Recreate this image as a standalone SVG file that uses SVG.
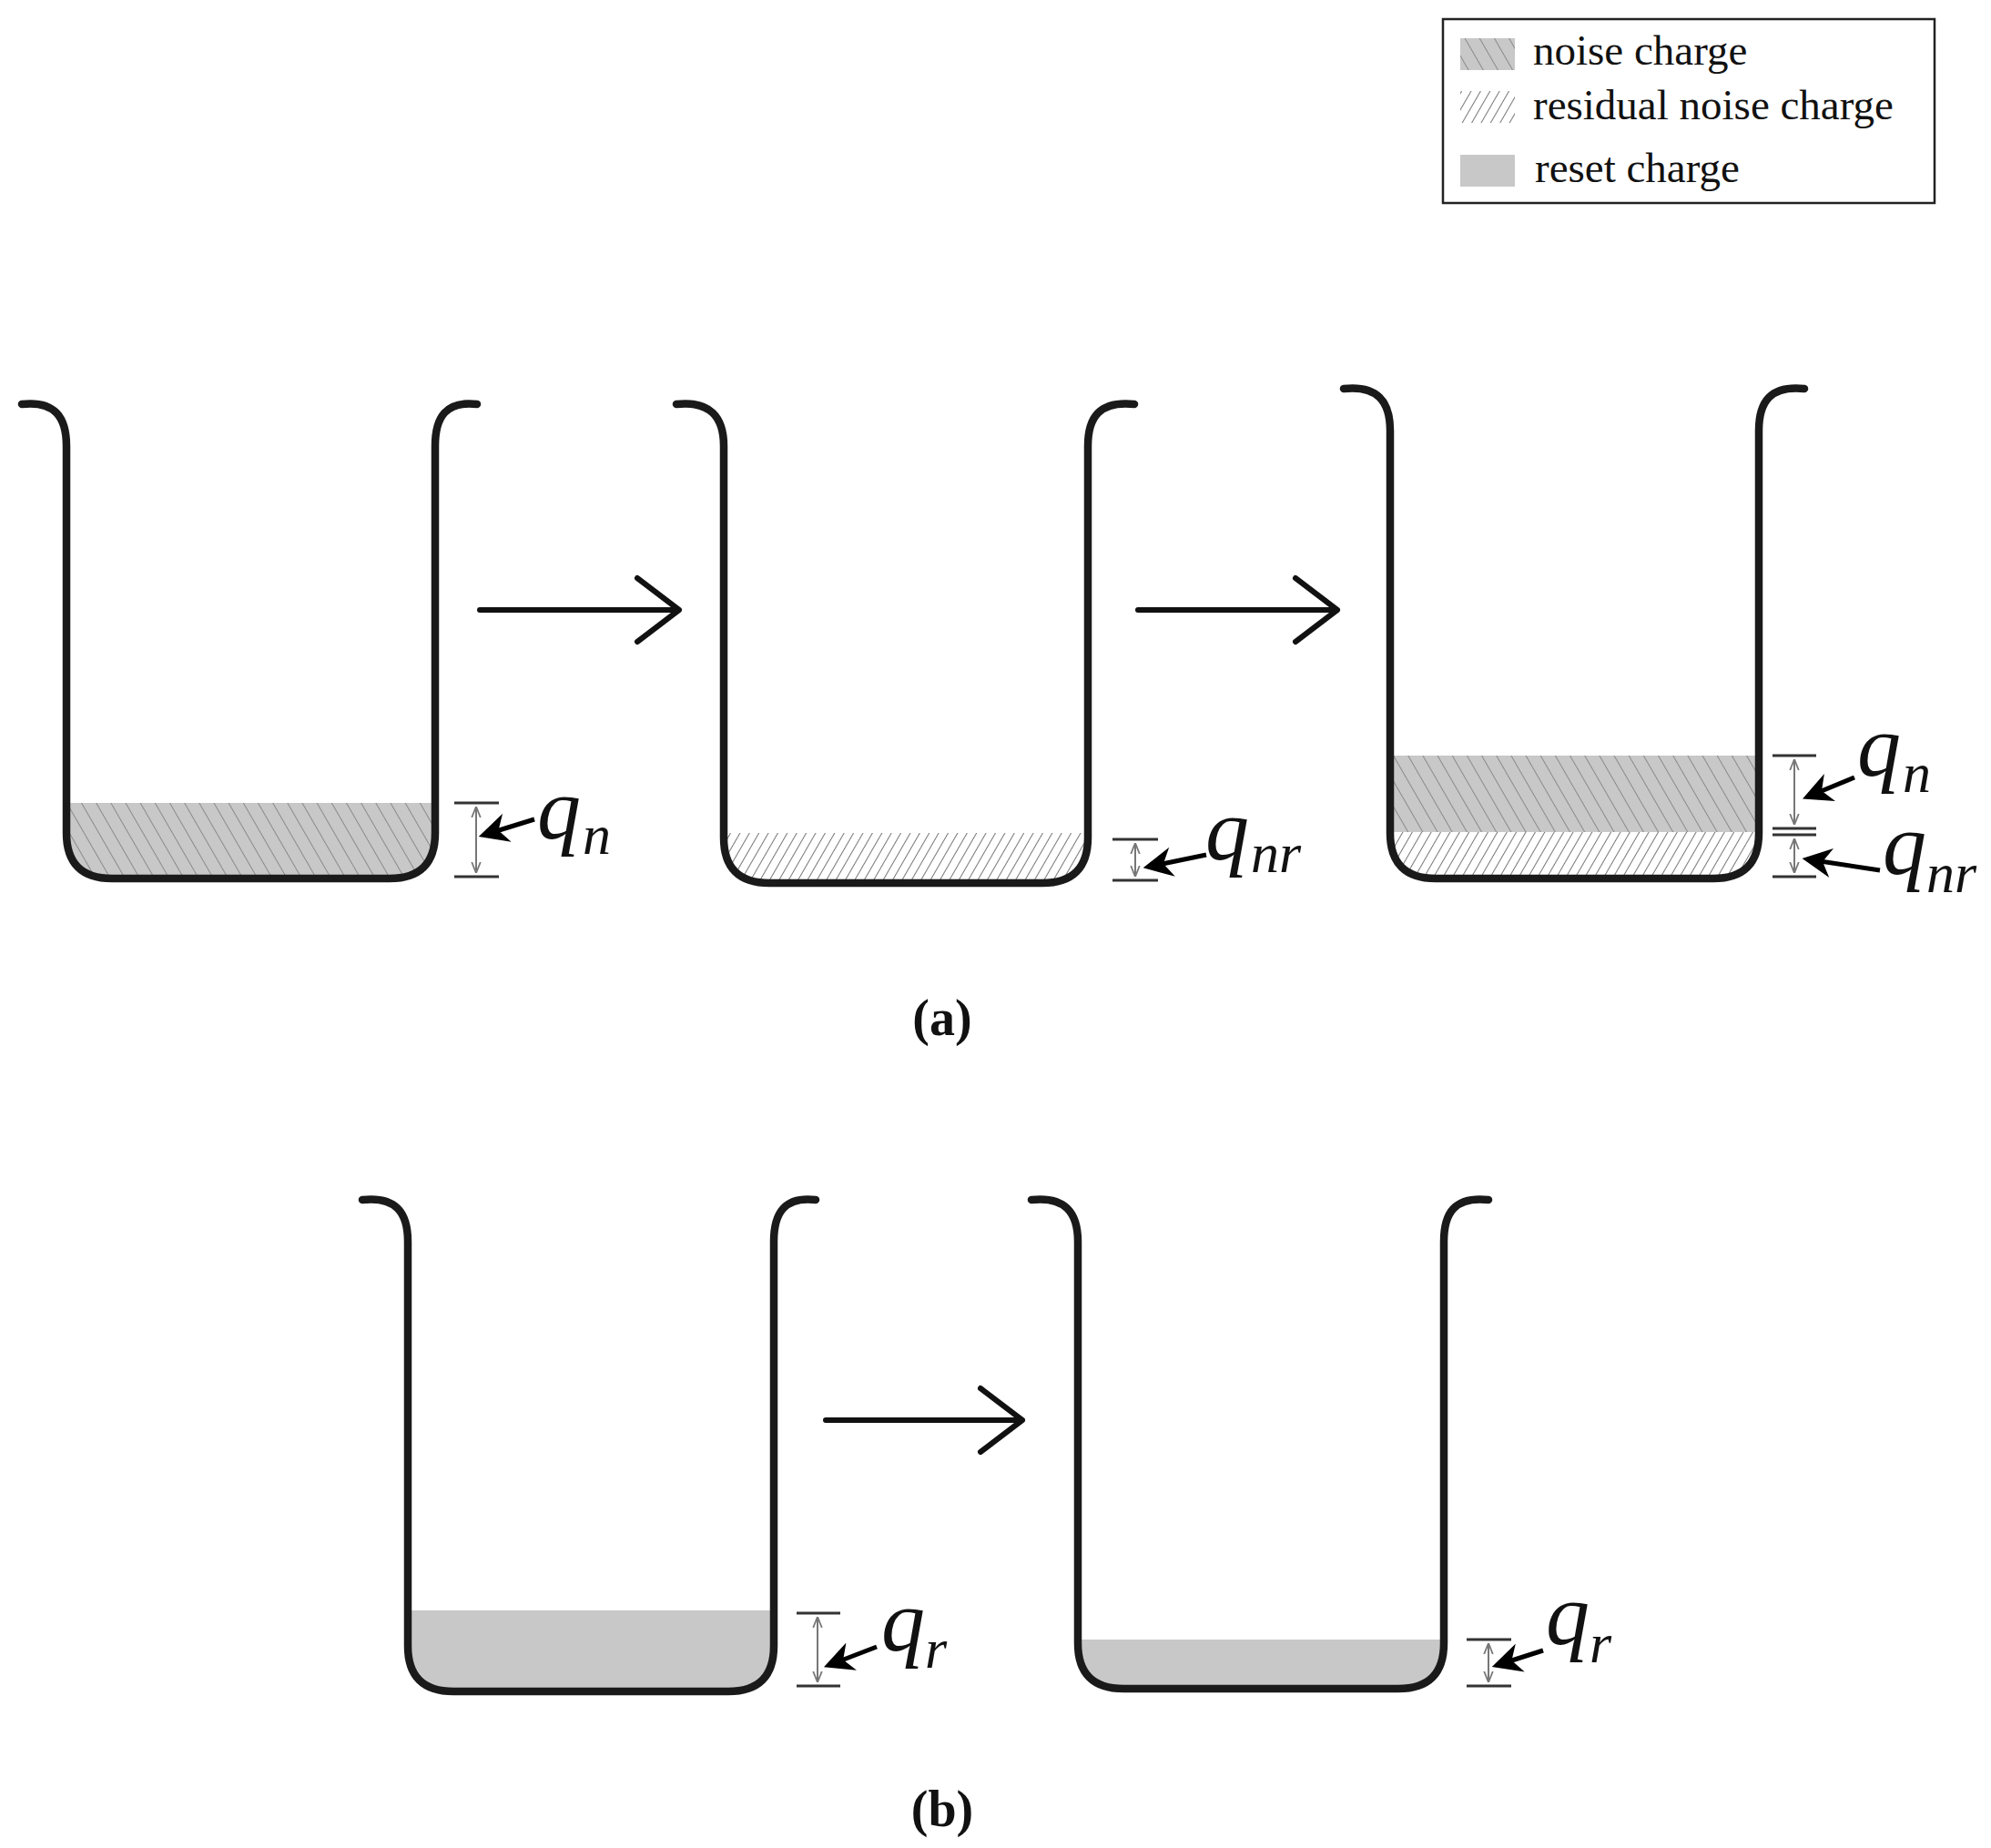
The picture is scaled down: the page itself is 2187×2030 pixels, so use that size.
<svg xmlns="http://www.w3.org/2000/svg" width="2187" height="2030" viewBox="0 0 2187 2030">
<style>
.cup{fill:none;stroke:#1a1a1a;stroke-width:8.5;stroke-linecap:round;stroke-linejoin:round}
.tick{stroke:#333;stroke-width:3}
.dim{stroke:#777;stroke-width:2;marker-start:url(#dh);marker-end:url(#dh)}
.ptr{stroke:#000;stroke-width:5;marker-end:url(#ph)}
.flow{fill:none;stroke:#111;stroke-width:6;stroke-linecap:round;stroke-linejoin:round}
.q{font-family:"Liberation Serif","DejaVu Serif",serif;font-style:italic;font-size:96px;fill:#111}
.s{font-family:"Liberation Serif","DejaVu Serif",serif;font-style:italic;font-size:62px;fill:#111}
.lg{font-family:"Liberation Serif",serif;font-size:47px;fill:#111}
.cap{font-family:"Liberation Serif",serif;font-weight:bold;font-size:56px;fill:#111;text-anchor:middle}
</style>
<defs>
<pattern id="noise" width="14" height="14" patternUnits="userSpaceOnUse" patternTransform="rotate(-30)">
<rect width="14" height="14" fill="#c8c8c8"/><line x1="0" y1="0" x2="0" y2="14" stroke="#8a8a8a" stroke-width="2"/></pattern>
<pattern id="resid" width="9" height="9" patternUnits="userSpaceOnUse" patternTransform="rotate(30)">
<rect width="9" height="9" fill="#fff"/><line x1="0" y1="0" x2="0" y2="9" stroke="#777" stroke-width="2"/></pattern>
<marker id="dh" viewBox="0 0 10 10" refX="10" refY="5" markerWidth="6" markerHeight="6" orient="auto-start-reverse" markerUnits="strokeWidth">
<path d="M0 1 L10 5 L0 9" fill="none" stroke="#777" stroke-width="1.5"/></marker>
<marker id="ph" viewBox="0 0 10 10" refX="8" refY="5" markerWidth="6.5" markerHeight="6.5" orient="auto">
<path d="M0 0 L10 5 L0 10 L3 5 Z" fill="#000"/></marker>
</defs>
<rect width="2187" height="2030" fill="#fff"/>

<g id="legend">
<rect x="1585" y="21" width="540" height="202" fill="#fff" stroke="#222" stroke-width="2.5"/>
<rect x="1604" y="42" width="60" height="35" fill="url(#noise)"/>
<rect x="1604" y="100" width="60" height="35" fill="url(#resid)"/>
<rect x="1604" y="170" width="60" height="35" fill="#c8c8c8"/>
<text class="lg" x="1684" y="71">noise charge</text>
<text class="lg" x="1684" y="131">residual noise charge</text>
<text class="lg" x="1686" y="200">reset charge</text>
</g>

<g id="cup1">
<path d="M73 882 H478 V915 Q478 965 428 965 H123 Q73 965 73 915 Z" fill="url(#noise)"/>
<path class="cup" d="M24 444 C60 440 73 458 73 490 V915 Q73 965 123 965 H428 Q478 965 478 915 V490 C478 458 490 440 524 444"/>
<line class="tick" x1="499" y1="882" x2="548" y2="882"/><line class="tick" x1="499" y1="963" x2="548" y2="963"/>
<line class="dim" x1="523" y1="886" x2="523" y2="959"/>
<line class="ptr" x1="587" y1="900" x2="532" y2="917"/>
<text class="q" x="590" y="921">q</text><text class="s" x="640" y="938">n</text>
</g>

<g id="cup2">
<path d="M795 915 H1195 V920 Q1195 970 1145 970 H845 Q795 970 795 920 Z" fill="url(#resid)"/>
<path class="cup" d="M743 444 C780 440 795 458 795 490 V920 Q795 970 845 970 H1145 Q1195 970 1195 920 V490 C1195 458 1208 440 1246 444"/>
<line class="tick" x1="1222" y1="922" x2="1272" y2="922"/><line class="tick" x1="1222" y1="967" x2="1272" y2="967"/>
<line class="dim" x1="1247" y1="926" x2="1247" y2="963"/>
<line class="ptr" x1="1325" y1="939" x2="1262" y2="952"/>
<text class="q" x="1324" y="944">q</text><text class="s" x="1374" y="958">nr</text>
</g>

<g id="cup3">
<path d="M1527 914 H1932 V915 Q1932 965 1882 965 H1577 Q1527 965 1527 915 Z" fill="url(#resid)"/>
<rect x="1527" y="830" width="405" height="84" fill="url(#noise)"/>
<path class="cup" d="M1476 427 C1513 423 1527 441 1527 473 V915 Q1527 965 1577 965 H1882 Q1932 965 1932 915 V473 C1932 441 1945 423 1982 427"/>
<line class="tick" x1="1947" y1="830" x2="1995" y2="830"/><line class="tick" x1="1947" y1="910" x2="1995" y2="910"/>
<line class="tick" x1="1947" y1="917" x2="1995" y2="917"/><line class="tick" x1="1947" y1="963" x2="1995" y2="963"/>
<line class="dim" x1="1971" y1="834" x2="1971" y2="906"/>
<line class="dim" x1="1971" y1="921" x2="1971" y2="959"/>
<line class="ptr" x1="2037" y1="854" x2="1986" y2="875"/>
<text class="q" x="2040" y="852">q</text><text class="s" x="2090" y="870">n</text>
<line class="ptr" x1="2065" y1="956" x2="1986" y2="944"/>
<text class="q" x="2068" y="960">q</text><text class="s" x="2116" y="980">nr</text>
</g>

<g id="cup4">
<path d="M448 1769 H850 V1808 Q850 1858 800 1858 H498 Q448 1858 448 1808 Z" fill="#c8c8c8"/>
<path class="cup" d="M398 1318 C435 1314 448 1332 448 1364 V1808 Q448 1858 498 1858 H800 Q850 1858 850 1808 V1364 C850 1332 862 1314 896 1318"/>
<line class="tick" x1="875" y1="1772" x2="923" y2="1772"/><line class="tick" x1="875" y1="1852" x2="923" y2="1852"/>
<line class="dim" x1="898" y1="1776" x2="898" y2="1848"/>
<line class="ptr" x1="963" y1="1809" x2="911" y2="1829"/>
<text class="q" x="968" y="1813">q</text><text class="s" x="1016" y="1832">r</text>
</g>

<g id="cup5">
<path d="M1184 1801 H1586 V1805 Q1586 1855 1536 1855 H1234 Q1184 1855 1184 1805 Z" fill="#c8c8c8"/>
<path class="cup" d="M1133 1318 C1170 1314 1184 1332 1184 1364 V1805 Q1184 1855 1234 1855 H1536 Q1586 1855 1586 1805 V1364 C1586 1332 1598 1314 1635 1318"/>
<line class="tick" x1="1611" y1="1801" x2="1660" y2="1801"/><line class="tick" x1="1611" y1="1852" x2="1660" y2="1852"/>
<line class="dim" x1="1635" y1="1805" x2="1635" y2="1848"/>
<line class="ptr" x1="1695" y1="1813" x2="1645" y2="1829"/>
<text class="q" x="1698" y="1806">q</text><text class="s" x="1746" y="1826">r</text>
</g>

<g id="connectors">
<path class="flow" d="M527 670 H746 M700 635 L746 670 L700 705"/>
<path class="flow" d="M1250 670 H1469 M1423 635 L1469 670 L1423 705"/>
<path class="flow" d="M907 1560 H1123 M1077 1525 L1123 1560 L1077 1595"/>
</g>

<text class="cap" x="1035" y="1137">(a)</text>
<text class="cap" x="1035" y="2006">(b)</text>
</svg>
